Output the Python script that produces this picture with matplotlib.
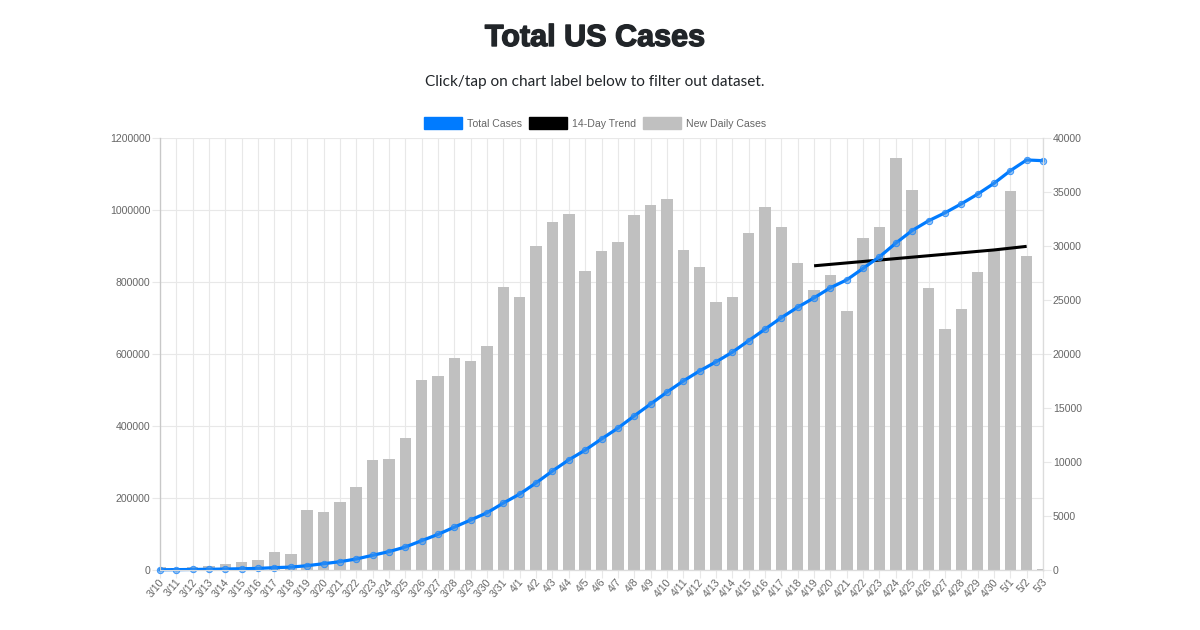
import matplotlib
matplotlib.use('Agg')
import matplotlib.pyplot as plt
import matplotlib.patheffects as pe
from matplotlib.patches import Patch
from matplotlib.transforms import ScaledTranslation

dates = ['3/10', '3/11', '3/12', '3/13', '3/14', '3/15', '3/16', '3/17', '3/18', '3/19', '3/20',
         '3/21', '3/22', '3/23', '3/24', '3/25', '3/26', '3/27', '3/28', '3/29', '3/30', '3/31',
         '4/1', '4/2', '4/3', '4/4', '4/5', '4/6', '4/7', '4/8', '4/9', '4/10', '4/11', '4/12',
         '4/13', '4/14', '4/15', '4/16', '4/17', '4/18', '4/19', '4/20', '4/21', '4/22', '4/23',
         '4/24', '4/25', '4/26', '4/27', '4/28', '4/29', '4/30', '5/1', '5/2', '5/3']

total_cases = [700, 1000, 1500, 2000, 2700, 3500, 4500, 6500, 8000, 12000, 17500,
               23000, 30600, 40800, 51000, 63900, 81400, 99000, 119000, 139000, 159000, 186000,
               211000, 242000, 275000, 306000, 333000, 364000, 394000, 428000, 461000, 494000, 525000, 553000,
               578000, 605000, 637000, 669000, 701000, 730000, 756000, 784000, 806000, 838000, 870000,
               908000, 943000, 970000, 992000, 1017000, 1044000, 1074000, 1109000, 1139000, 1137000]

new_daily = [250, 150, 280, 370, 580, 710, 900, 1640, 1480, 5580, 5340,
             6270, 7710, 10160, 10250, 12250, 17600, 17960, 19630, 19350, 20740, 26200,
             25280, 30000, 32220, 32960, 27690, 29540, 30370, 32870, 33800, 34350, 29630, 28060,
             24800, 25280, 31200, 33610, 31760, 28430, 25930, 27310, 23980, 30740, 31760,
             38150, 35180, 26110, 22310, 24170, 27590, 29630, 35090, 29070, 100]

# trend only covers 4/19 to 5/2
trend_dates = dates[40:54]
trend_values = [845000, 849000, 853000, 857000, 861000, 865000, 869000,
                873000, 877000, 881000, 885000, 889000, 894000, 899000]

left_ticks = [0, 200000, 400000, 600000, 800000, 1000000, 1200000]
right_ticks = [0, 5000, 10000, 15000, 20000, 25000, 30000, 35000, 40000]

BLUE = '#007bff'
GREY = '#c0c0c0'
TEXT = '#666666'
GRID = '#e8e8e8'

fig = plt.figure(figsize=(12, 6.3), dpi=100)
ax = fig.add_axes([160 / 1200, 1 - 570 / 630, 883 / 1200, 432 / 630])
bar_ax = ax.twinx()
line_ax = ax.twinx()

x = list(range(len(dates)))
trend_x = x[40:54]

bar_ax.bar(x, new_daily, width=0.7, color=GREY)
line_ax.plot(trend_x, trend_values, color='black', lw=2.2, solid_capstyle='butt')
line_ax.plot(x, total_cases, color=BLUE, lw=2.3, marker='o', ms=4.6, mfc=(0.25, 0.58, 0.92, 0.55), mec=(0.1, 0.52, 0.98, 0.8),
             mew=0.7, clip_on=False)

ax.set_xlim(0, 54)
ax.set_ylim(0, 1200000)
bar_ax.set_ylim(0, 40000)
line_ax.set_ylim(0, 1200000)
line_ax.set_yticks([])

ax.set_xticks(x)
ax.set_xticklabels(dates, rotation=50, ha='right', rotation_mode='anchor')
ax.set_yticks(left_ticks)
ax.set_yticklabels([str(v) for v in left_ticks])
bar_ax.set_yticks(right_ticks)
bar_ax.set_yticklabels([str(v) for v in right_ticks])

ax.grid(True, color=GRID, lw=0.8)
ax.set_axisbelow(True)
for a in (ax, bar_ax):
    a.tick_params(length=6, width=0.8, color=GRID, labelcolor=TEXT, pad=1)
    a.tick_params(labelsize=7.6)
    for label in a.get_xticklabels() + a.get_yticklabels():
        label.set_fontfamily('Liberation Sans')
# nudge the slanted date labels, they sit nearer the tick in the original
shift = ScaledTranslation(-1 / 72, 2 / 72, fig.dpi_scale_trans)
for label in ax.get_xticklabels():
    label.set_transform(label.get_transform() + shift)
for a in (ax, bar_ax, line_ax):
    for side in a.spines:
        a.spines[side].set_color('#dcdcdc')
    a.spines['left'].set_color('#c8c8c8')
    a.spines['top'].set_visible(False)

handles = [Patch(color=BLUE, label='Total Cases'),
           Patch(color='black', label='14-Day Trend'),
           Patch(color=GREY, label='New Daily Cases')]
fig.legend(handles=handles, loc='center', bbox_to_anchor=(595 / 1200, 1 - 123 / 630), ncol=3,
           frameon=False, handlelength=3.6, handleheight=1.3, handletextpad=0.45, columnspacing=0.7,
           labelcolor=TEXT, prop={'family': 'Liberation Sans', 'size': 7.6})

title = fig.text(595 / 1200, 1 - 38 / 630, 'Total US Cases', ha='center', va='center', color='#212529',
                 fontsize=22, fontweight='bold', family='Liberation Sans')
title.set_path_effects([pe.withStroke(linewidth=1.0, foreground='#212529')])
fig.text(595 / 1200, 1 - 82 / 630, 'Click/tap on chart label below to filter out dataset.', ha='center',
         va='center', color='#212529', fontsize=11.1, family='Lato')

fig.savefig('out.png', dpi=100)
